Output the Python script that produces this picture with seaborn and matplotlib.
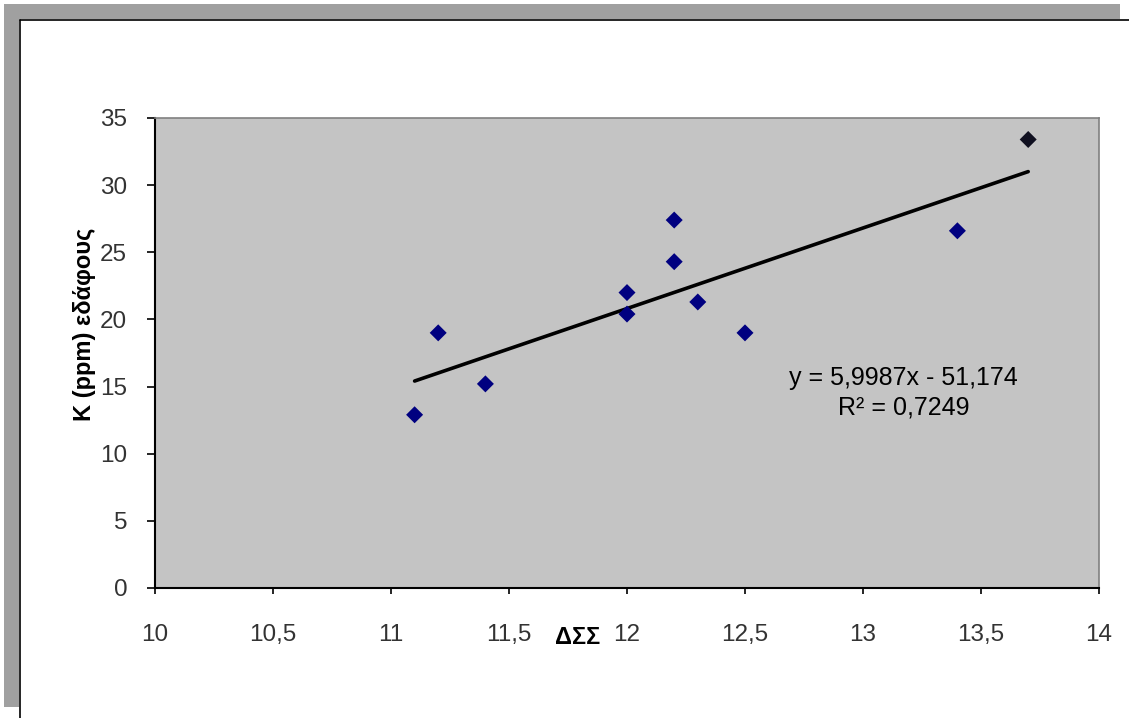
import numpy as np
import pandas as pd
import matplotlib
matplotlib.use("Agg")
import matplotlib.pyplot as plt
import seaborn as sns
from matplotlib.patches import Rectangle
from matplotlib.lines import Line2D

# Τιμές διαβασμένες από το διάγραμμα
dss = [11.1, 11.2, 11.4, 12.0, 12.0, 12.2, 12.2, 12.3, 12.5, 13.4]
k_ppm = [12.9, 19.0, 15.2, 22.0, 20.4, 27.4, 24.3, 21.3, 19.0, 26.6]
# το τελευταίο σημείο φαίνεται μαύρο στην εικόνα
dss_last = [13.7]
k_last = [33.4]

# γραμμή τάσης (από την εξίσωση του διαγράμματος)
slope = 5.9987
intercept = -51.174
r2 = 0.7249

x_ticks = [10, 10.5, 11, 11.5, 12, 12.5, 13, 13.5, 14]
y_ticks = [0, 5, 10, 15, 20, 25, 30, 35]


def fmt(v):
    return f"{v:g}".replace(".", ",")


sns.set_theme(style="white")
plt.rcParams["font.family"] = ["Liberation Sans", "DejaVu Sans"]

fig = plt.figure(figsize=(11.29, 7.18), dpi=100)
fig.patch.set_facecolor("white")

# γκρι πλαίσιο πάνω και αριστερά
W, H = 1129, 718
fig.patches.append(Rectangle((4 / W, 1 - 19 / H), 1116 / W, 15 / H, transform=fig.transFigure,
                             facecolor="#a0a0a0", edgecolor="none", zorder=0))
fig.patches.append(Rectangle((4 / W, 1 - 707 / H), 15 / W, 703 / H, transform=fig.transFigure,
                             facecolor="#a0a0a0", edgecolor="none", zorder=0))
fig.lines.append(Line2D([20 / W, 1], [1 - 20 / H, 1 - 20 / H], transform=fig.transFigure,
                        color="black", lw=1.2))
fig.lines.append(Line2D([20 / W, 20 / W], [0, 1 - 20 / H], transform=fig.transFigure,
                        color="black", lw=1.2))

ax = fig.add_axes([155 / W, 1 - 588 / H, 944 / W, 470 / H])
ax.set_facecolor("#c4c4c4")

df = pd.DataFrame({"dss": dss, "k": k_ppm})
df_last = pd.DataFrame({"dss": dss_last, "k": k_last})

# γραμμή τάσης
x_all = dss + dss_last
trend = pd.DataFrame({"dss": [min(x_all), max(x_all)]})
trend["k"] = slope * trend["dss"] + intercept
sns.lineplot(data=trend, x="dss", y="k", color="black", linewidth=2.6, ax=ax, zorder=2)

sns.scatterplot(data=df, x="dss", y="k", marker="D", s=75, color="#000080",
                edgecolor="none", ax=ax, zorder=3)
sns.scatterplot(data=df_last, x="dss", y="k", marker="D", s=75, color="#101020",
                edgecolor="none", ax=ax, zorder=3)

ax.set_xlim(10, 14)
ax.set_ylim(0, 35)
ax.set_xticks(x_ticks)
ax.set_xticklabels([fmt(v) for v in x_ticks])
ax.set_yticks(y_ticks)
ax.set_yticklabels([fmt(v) for v in y_ticks])
ax.tick_params(axis="both", direction="out", width=1.2, color="black",
               labelsize=17.5, labelcolor="#333333", bottom=True, left=True)
ax.tick_params(axis="x", length=4, pad=22)
ax.tick_params(axis="y", length=6, pad=14)

for side in ["left", "bottom"]:
    ax.spines[side].set_color("black")
    ax.spines[side].set_linewidth(1.5)
for side in ["top", "right"]:
    ax.spines[side].set_color("#808080")
    ax.spines[side].set_linewidth(1.2)

ax.set_xlabel("ΔΣΣ", fontsize=17, fontweight="bold", color="black")
ax.xaxis.set_label_coords(0.448, -0.08)
ax.set_ylabel("K (ppm) εδάφους", fontsize=17, fontweight="bold", color="black")
ax.yaxis.set_label_coords(-0.062, 0.56)

ax.text(0.793, 0.447, f"y = {fmt(slope)}x - {fmt(-intercept)}", transform=ax.transAxes,
        ha="center", va="center", fontsize=18, color="black")
ax.text(0.793, 0.385, f"R² = {fmt(r2)}", transform=ax.transAxes,
        ha="center", va="center", fontsize=18, color="black")

plt.savefig("out.png", dpi=100)
